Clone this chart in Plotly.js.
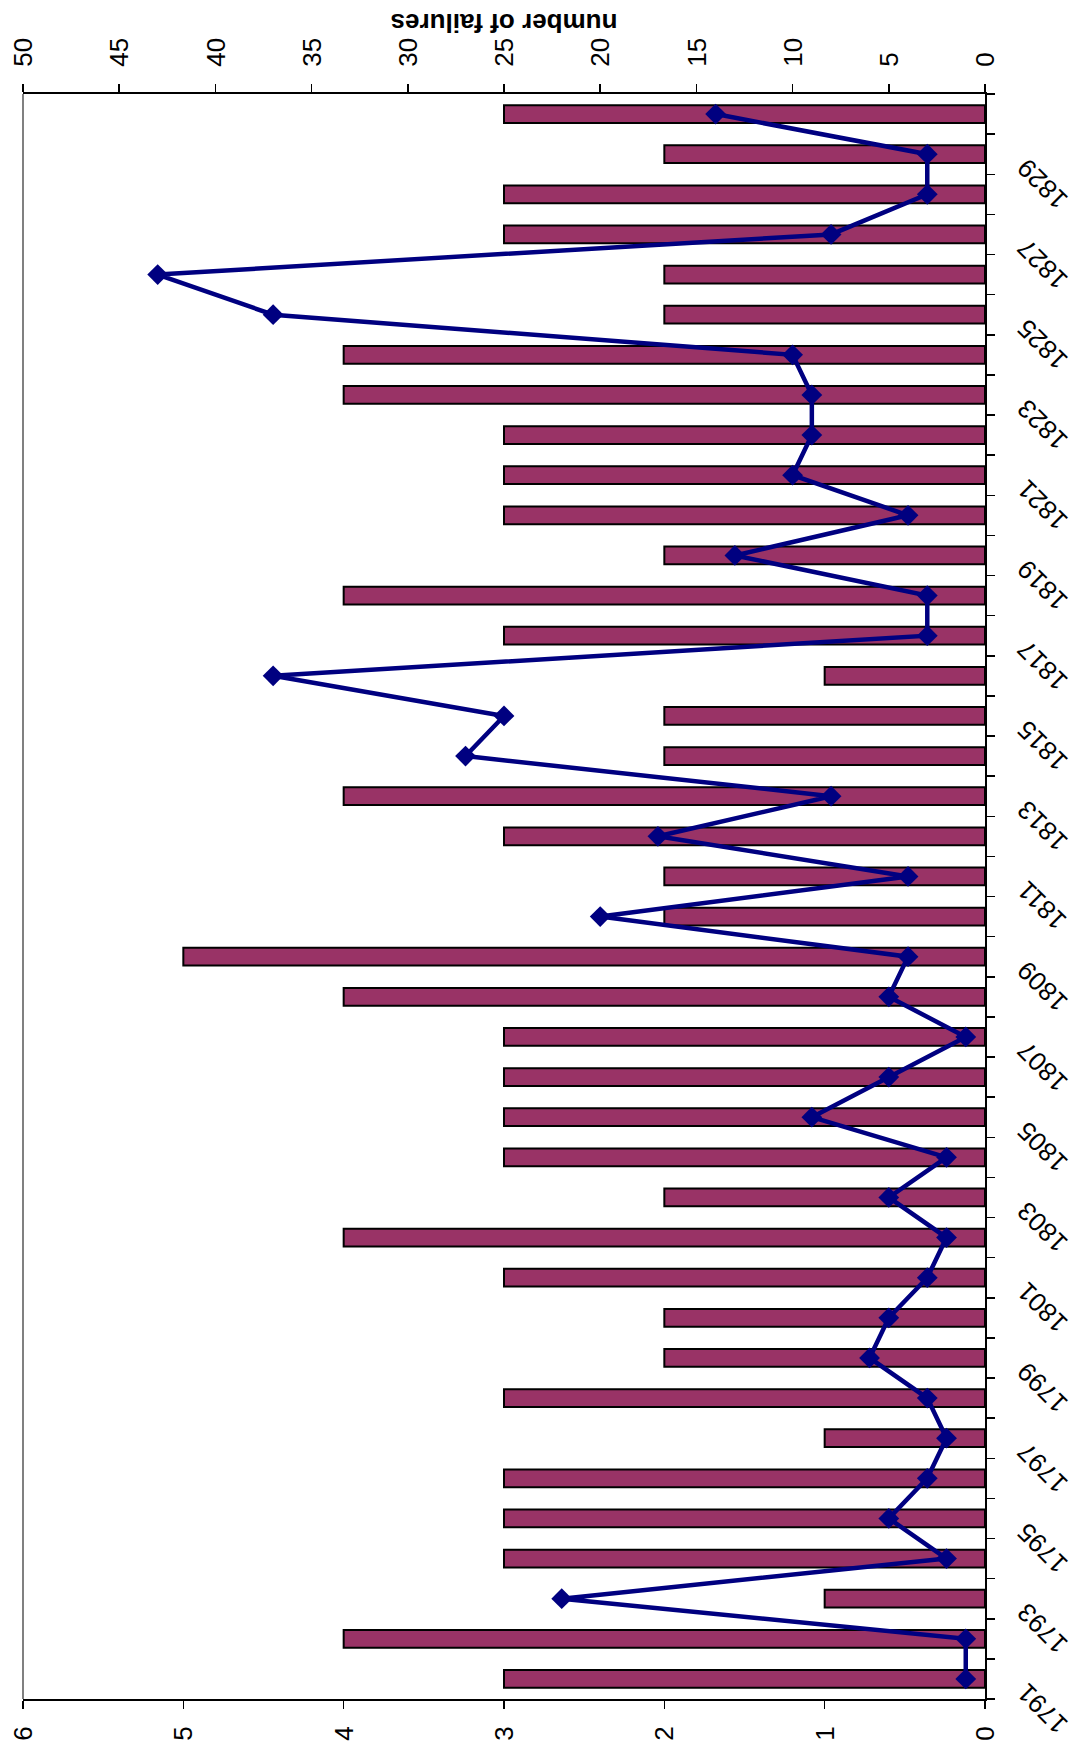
<!DOCTYPE html>
<html><head><meta charset="utf-8">
<script src="https://cdn.plot.ly/plotly-3.0.1.min.js"></script>
<style>
html,body{margin:0;padding:0;overflow:hidden;background:#fff;width:1079px;height:1748px;}
#wrap{position:absolute;left:0;top:0;width:1748px;height:1079px;transform-origin:0 0;transform:translateY(1748px) rotate(-90deg);}
</style></head><body><div id="wrap"><div id="chart" style="width:1748px;height:1079px"></div></div>
<script>
const years=[1791,1792,1793,1794,1795,1796,1797,1798,1799,1800,1801,1802,1803,1804,1805,1806,1807,1808,1809,1810,1811,1812,1813,1814,1815,1816,1817,1818,1819,1820,1821,1822,1823,1824,1825,1826,1827,1828,1829,1830];
const barValues=[3,4,1,3,3,3,1,3,2,2,3,4,2,3,3,3,3,4,5,2,2,3,4,2,2,1,3,4,2,3,3,3,4,4,2,2,3,3,2,3];
const failures=[1,1,22,2,5,3,2,3,6,5,3,2,5,2,9,5,1,5,4,20,4,17,8,27,25,37,3,3,13,4,10,9,9,10,37,43,8,3,3,14];
const yearTickVals=[1791,1793,1795,1797,1799,1801,1803,1805,1807,1809,1811,1813,1815,1817,1819,1821,1823,1825,1827,1829];
const yearTickText=yearTickVals.map(String);

const font='"Liberation Sans", Arial, sans-serif';
const traces=[
 {type:'bar', x:years, y:barValues, width:0.44, yaxis:'y',
  marker:{color:'#993366', line:{color:'#000000', width:2}}},
 {type:'scatter', mode:'lines+markers', x:years, y:failures, yaxis:'y2',
  line:{color:'#000080', width:4.5},
  marker:{symbol:'diamond', size:16, color:'#000080'}}
];
const xr=[years[0]-0.5, years[years.length-1]+0.5];
const layout={
 width:1748, height:1079, showlegend:false,
 paper_bgcolor:'#ffffff', plot_bgcolor:'#ffffff',
 font:{family:font, size:26, color:'#000000'},
 margin:{l:49, r:94, t:23, b:94, pad:0},
 xaxis:{type:'linear', range:xr, tickmode:'array', tickvals:yearTickVals, ticktext:yearTickText,
  tickangle:-45, ticks:'', showline:true, linecolor:'#000000', linewidth:2, showgrid:false, zeroline:false,
  ticklabelstandoff:14, ticklabelshift:-12, tickfont:{size:26},
  minor:{tickmode:'linear', tick0:xr[0], dtick:1, ticks:'outside', ticklen:8, tickcolor:'#000000', tickwidth:1.5, showgrid:false},
  automargin:false},
 xaxis2:{type:'linear', overlaying:'x', anchor:'y', side:'bottom', range:xr, tickmode:'linear', tick0:xr[0], dtick:1,
  ticks:'inside', ticklen:8, tickwidth:1.5, tickcolor:'#000000', showticklabels:false, showline:false, showgrid:false, zeroline:false},
 yaxis:{range:[0,6], dtick:1, ticks:'outside', ticklen:8, tickwidth:1.5, tickcolor:'#000000', showline:true, linecolor:'#000000', linewidth:2,
  showgrid:false, zeroline:false, tickfont:{size:26}, ticklabelstandoff:12, automargin:false},
 yaxis3:{overlaying:'y', side:'left', anchor:'x', range:[0,6], dtick:1, ticks:'inside', ticklen:8, tickwidth:1.5, tickcolor:'#000000',
  showticklabels:false, showline:false, showgrid:false, zeroline:false},
 yaxis2:{overlaying:'y', side:'right', range:[0,50], dtick:5, ticks:'outside', ticklen:8, tickwidth:1.5, tickcolor:'#000000',
  showline:true, linecolor:'#000000', linewidth:2, showgrid:false, zeroline:false, tickfont:{size:26}, ticklabelstandoff:12,
  title:{text:'<b>number of failures</b>', font:{size:26}, standoff:6}, automargin:false},
 shapes:[{type:'line', xref:'paper', yref:'paper', x0:0, x1:1, y0:1, y1:1, line:{color:'#808080', width:2}}]
};
Plotly.newPlot('chart', traces, layout, {staticPlot:true, displayModeBar:false});
</script></body></html>
